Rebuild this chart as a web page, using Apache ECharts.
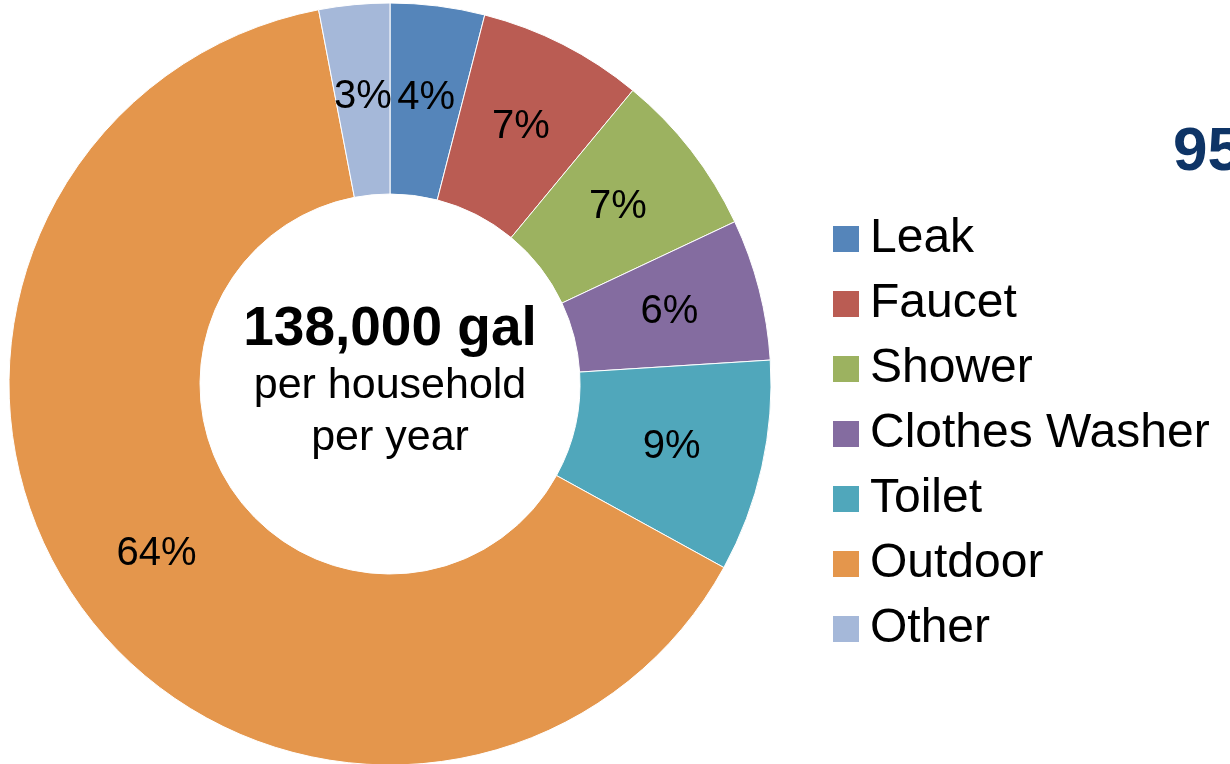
<!DOCTYPE html>
<html>
<head>
<meta charset="utf-8">
<title>Household water use</title>
<script src="https://cdn.jsdelivr.net/npm/echarts@6/dist/echarts.min.js"></script>
<style>
  html, body { margin: 0; padding: 0; background: #ffffff; }
  #chart { width: 1230px; height: 764px; }
</style>
</head>
<body>
<div id="chart"></div>
<script>
// End uses of household water, share of yearly total (%)
const categories = ['Leak', 'Faucet', 'Shower', 'Clothes Washer', 'Toilet', 'Outdoor', 'Other'];
const shares = [4, 7, 7, 6, 9, 64, 3];
const sliceColors = ['#5585BA', '#BA5C53', '#9CB260', '#846CA0', '#50A7BB', '#E4964C', '#A5B8D9'];

const centerLines = ['138,000 gal', 'per household', 'per year'];
const sideNote = '95';

const FONT = '"Liberation Sans", Arial, Helvetica, sans-serif';
const SQUARE = 'path://M0,0 L10,0 L10,10 L0,10 Z';

const chart = echarts.init(document.getElementById('chart'), null, { renderer: 'canvas' });

chart.setOption({
  backgroundColor: '#ffffff',
  animation: false,
  color: sliceColors,
  legend: {
    orient: 'vertical',
    left: 828,
    top: 210,
    padding: 5,
    itemWidth: 26,
    itemHeight: 26,
    itemGap: 17,
    icon: SQUARE,
    selectedMode: false,
    data: categories,
    itemStyle: { borderWidth: 0 },
    textStyle: {
      fontFamily: FONT,
      fontSize: 48,
      lineHeight: 48,
      color: '#000000',
      padding: [0, 0, 0, 6]
    }
  },
  graphic: [
    {
      type: 'text', x: 390, y: 330,
      style: {
        text: centerLines[0],
        textAlign: 'center', textVerticalAlign: 'middle',
        font: 'bold 55px ' + FONT,
        fill: '#000000'
      }
    },
    {
      type: 'text', x: 390, y: 386,
      style: {
        text: centerLines[1],
        textAlign: 'center', textVerticalAlign: 'middle',
        font: '43px ' + FONT,
        fill: '#000000'
      }
    },
    {
      type: 'text', x: 390, y: 438,
      style: {
        text: centerLines[2],
        textAlign: 'center', textVerticalAlign: 'middle',
        font: '43px ' + FONT,
        fill: '#000000'
      }
    },
    {
      type: 'text', x: 1173, y: 153,
      style: {
        text: sideNote,
        textVerticalAlign: 'middle',
        font: 'bold 62px ' + FONT,
        fill: '#0E3466'
      }
    }
  ],
  series: [
    {
      type: 'pie',
      center: [390, 384],
      radius: [190, 381],
      startAngle: 90,
      clockwise: true,
      avoidLabelOverlap: false,
      itemStyle: { borderColor: '#ffffff', borderWidth: 1 },
      label: {
        show: true,
        position: 'inside',
        formatter: '{c}%',
        fontFamily: FONT,
        fontSize: 40,
        color: '#000000'
      },
      labelLine: { show: false },
      emphasis: { disabled: true },
      data: categories.map((name, i) => ({ name: name, value: shares[i] }))
    }
  ]
});
</script>
</body>
</html>
